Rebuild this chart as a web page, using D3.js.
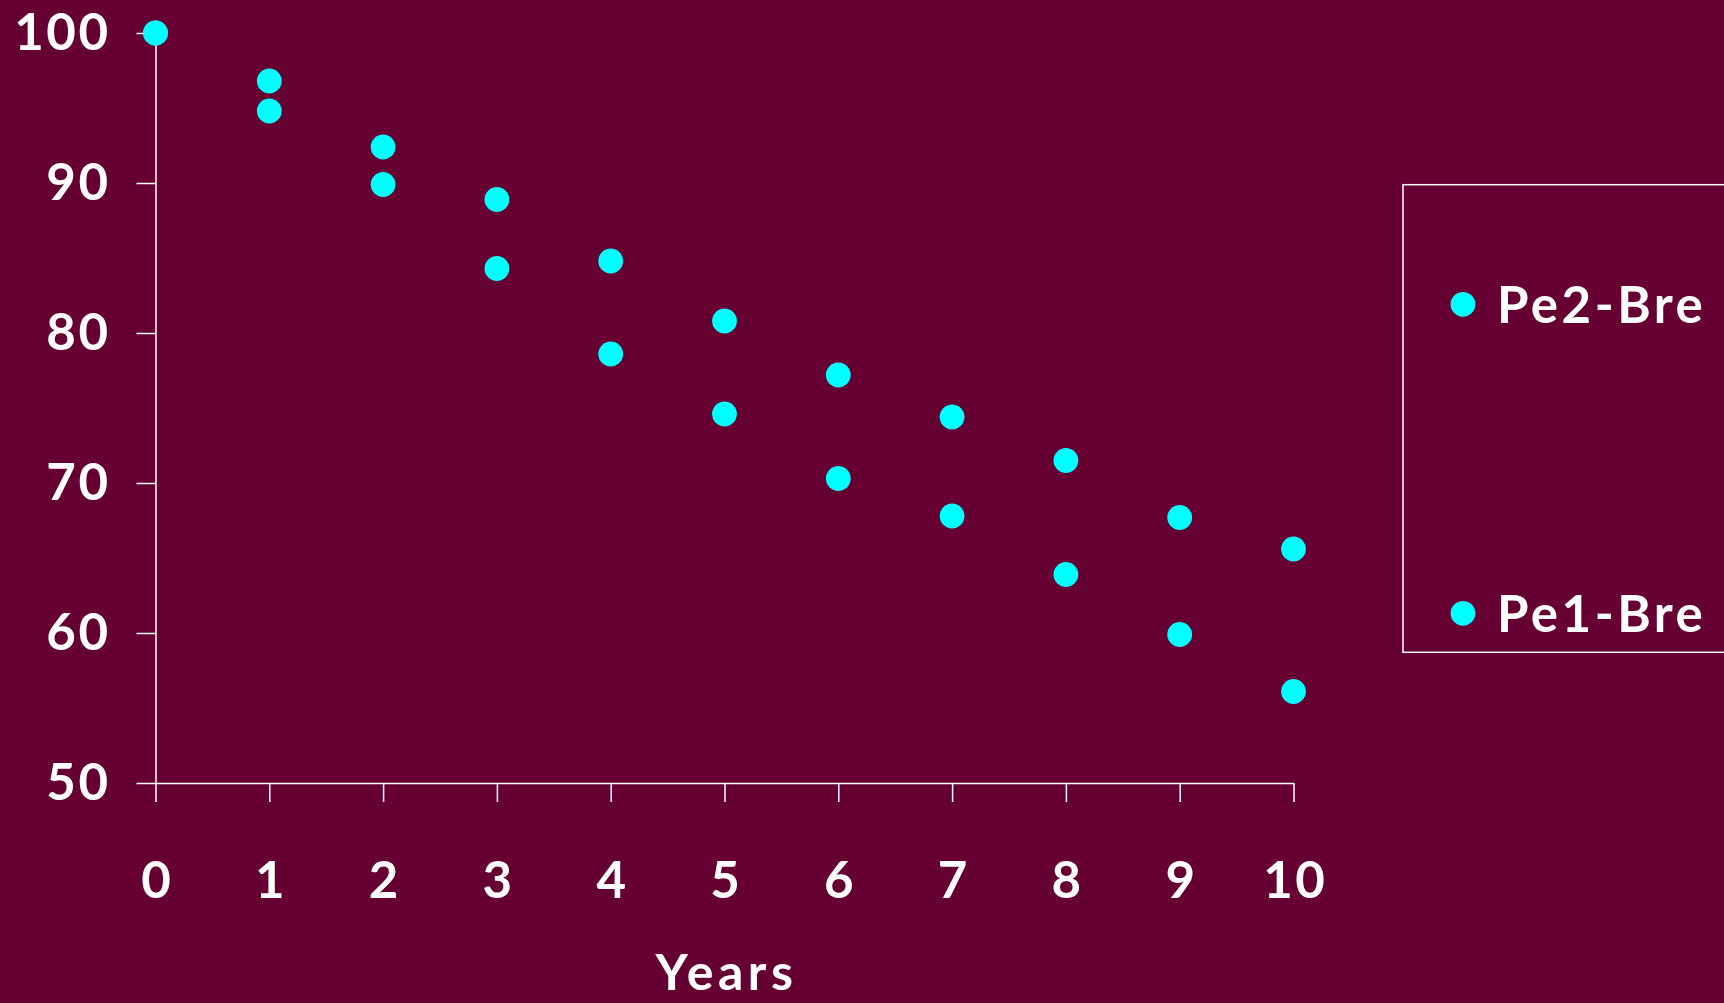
<!DOCTYPE html>
<html>
<head>
<meta charset="utf-8">
<script src="https://cdn.jsdelivr.net/npm/d3@7"></script>
<style>
  html, body { margin: 0; padding: 0; background: #660033; overflow: hidden; }
  svg { display: block; }
</style>
</head>
<body>
<svg id="chart" width="1724" height="1003"></svg>
<script>
// ---- data ----
const years = [0, 1, 2, 3, 4, 5, 6, 7, 8, 9, 10];
const pe2Bre = [100, 96.8, 92.4, 88.9, 84.8, 80.8, 77.2, 74.4, 71.5, 67.7, 65.6];
const pe1Bre = [100, 94.8, 89.9, 84.3, 78.6, 74.6, 70.3, 67.8, 63.9, 59.9, 56.1];
const seriesNames = ["Pe2-Bre", "Pe1-Bre"];
const yTicks = [50, 60, 70, 80, 90, 100];
const xTicks = [0, 1, 2, 3, 4, 5, 6, 7, 8, 9, 10];
const xTitle = "Years";

// ---- style ----
const BG = "#660033", DOT = "#00ffff", FG = "#ffffff";
const FONT = "'Comic Sans MS', 'Lato', 'Open Sans', sans-serif";

const svg = d3.select("#chart");
svg.append("rect").attr("width", 1724).attr("height", 1003).attr("fill", BG);

const x = d3.scaleLinear().domain([0, 10]).range([155.5, 1293.5]);
const y = d3.scaleLinear().domain([50, 100]).range([783, 33]);

// axes
const xAxis = d3.axisBottom(x).tickValues(xTicks).tickSize(19).tickSizeOuter(0).tickPadding(60).tickFormat(d3.format("d"));
const yAxis = d3.axisLeft(y).tickValues(yTicks).tickSize(19).tickSizeOuter(0).tickPadding(26).tickFormat(d3.format("d"));

const gx = svg.append("g").attr("transform", `translate(0,${y(50)})`).call(xAxis);
const gy = svg.append("g").attr("transform", `translate(${x(0)},0)`).call(yAxis);

[gx, gy].forEach(g => {
  g.selectAll("path.domain").attr("stroke", FG).attr("stroke-width", 1.5);
  g.selectAll(".tick line").attr("stroke", FG).attr("stroke-width", 1.5);
  g.selectAll(".tick text")
    .attr("fill", FG)
    .attr("font-family", FONT)
    .attr("font-weight", "bold")
    .attr("font-size", 51)
    .attr("letter-spacing", 2.5);
});
gx.selectAll(".tick text").attr("dx", 1.25);

// x title
svg.append("text")
  .attr("x", x(5) + 2)
  .attr("y", 990)
  .attr("text-anchor", "middle")
  .attr("fill", FG)
  .attr("font-family", FONT)
  .attr("font-weight", "bold")
  .attr("font-size", 50)
  .attr("letter-spacing", 4.5)
  .text(xTitle);

// points
const allSeries = [pe2Bre, pe1Bre];
allSeries.forEach(vals => {
  svg.append("g").selectAll("circle")
    .data(years.map((yr, i) => ({ yr, v: vals[i] })))
    .join("circle")
    .attr("cx", d => x(d.yr))
    .attr("cy", d => y(d.v))
    .attr("r", 12.4)
    .attr("fill", DOT);
});

// legend
const lg = svg.append("g");
lg.append("rect")
  .attr("x", 1403).attr("y", 184.7)
  .attr("width", 400).attr("height", 467.6)
  .attr("fill", "none").attr("stroke", FG).attr("stroke-width", 1.5);

const legendY = [304.3, 613.3];
seriesNames.forEach((name, i) => {
  lg.append("circle").attr("cx", 1463).attr("cy", legendY[i]).attr("r", 12.4).attr("fill", DOT);
  lg.append("text")
    .attr("x", 1497).attr("y", legendY[i] + 19)
    .attr("fill", FG)
    .attr("font-family", FONT)
    .attr("font-weight", "bold")
    .attr("font-size", 51)
    .attr("letter-spacing", 3.5)
    .text(name);
});
</script>
</body>
</html>
